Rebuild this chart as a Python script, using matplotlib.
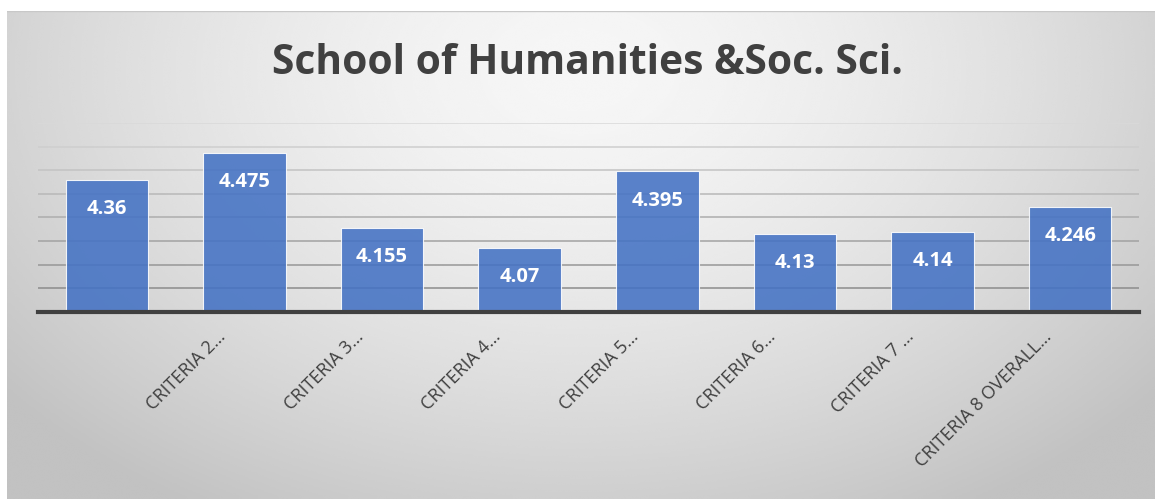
import numpy as np
import matplotlib.pyplot as plt
import matplotlib.transforms as mtransforms
from matplotlib.colors import to_hex

# --- data ---
CATEGORIES = ["", "CRITERIA 2…", "CRITERIA 3…", "CRITERIA 4…", "CRITERIA 5…",
              "CRITERIA 6…", "CRITERIA 7 …", "CRITERIA 8 OVERALL…"]
SCORES = [4.36, 4.475, 4.155, 4.07, 4.395, 4.13, 4.14, 4.246]
LABELS = ["4.36", "4.475", "4.155", "4.07", "4.395", "4.13", "4.14", "4.246"]
Y_MIN, Y_MAX, Y_STEP = 3.8, 4.6, 0.1

TITLE = "School of Humanities &Soc. Sci."

INK = "#404040"
BAR = "#4472C4"

plt.rcParams["font.family"] = ["Open Sans", "DejaVu Sans"]

W, H = 1157, 499
fig = plt.figure(figsize=(W / 100, H / 100), dpi=100)
fig.patch.set_facecolor("white")

# chart area background: radial grey gradient (light centre-top, darker edges)
bg = fig.add_axes([7 / W, 0, (1155 - 7) / W, (H - 11) / H])
yy, xx = np.mgrid[0:1:300j, 0:1:600j]
r = np.sqrt(((xx - 0.5) / 0.62) ** 2 + ((yy - 0.12) / 1.0) ** 2)
shade = np.clip(0.965 - 0.19 * r ** 1.6, 0.76, 0.97)
bg.imshow(shade, cmap="gray", vmin=0, vmax=1, aspect="auto",
          extent=[0, 1, 1, 0], interpolation="bicubic")
bg.set_xlim(0, 1)
bg.set_ylim(1, 0)
bg.axis("off")
bg.plot([0, 1], [0.001, 0.001], color="#c8c8c8", lw=1)

# plot axes: x 38..1139, y 123..312 (px)
ax = fig.add_axes([38 / W, (H - 312) / H, (1139 - 38) / W, (312 - 123) / H])
ax.patch.set_alpha(0)

x = np.arange(len(SCORES))
ax.set_xlim(-0.5, len(SCORES) - 0.5)
ax.set_ylim(Y_MIN, Y_MAX)

# gridlines, darker toward the bottom
levels = np.arange(Y_MIN + Y_STEP, Y_MAX + Y_STEP / 2, Y_STEP)
for i, lv in enumerate(levels):
    g = 0.55 + 0.30 * i / (len(levels) - 1)
    ax.axhline(lv, color=to_hex((g, g, g)), lw=1.1, zorder=1)

ax.bar(x, [s - Y_MIN for s in SCORES], bottom=Y_MIN, width=0.6,
       color=BAR, alpha=0.88, edgecolor="white", linewidth=0.8, zorder=2)

for xi, s, lab in zip(x, SCORES, LABELS):
    ax.annotate(lab, xy=(xi, s), xytext=(0, -21), textcoords="offset points",
                ha="center", va="center", fontsize=14.5, fontweight="bold",
                color="white", zorder=3)

ax.axhline(Y_MIN, color=INK, lw=3, zorder=4, clip_on=False)

ax.set_yticks([])
ax.set_xticks(x)
ax.set_xticklabels(CATEGORIES, rotation=45, ha="right", rotation_mode="anchor",
                   fontsize=13, color=INK)
ax.tick_params(axis="x", length=0, pad=4)
shift = mtransforms.ScaledTranslation(-28 / 100, -10 / 100, fig.dpi_scale_trans)
for t in ax.get_xticklabels():
    t.set_transform(t.get_transform() + shift)
for sp in ax.spines.values():
    sp.set_visible(False)

fig.text(588 / W, 1 - 63 / H, TITLE, ha="center", va="center",
         fontsize=29.3, fontweight="bold", color=INK)

fig.savefig("out.png", dpi=100)
